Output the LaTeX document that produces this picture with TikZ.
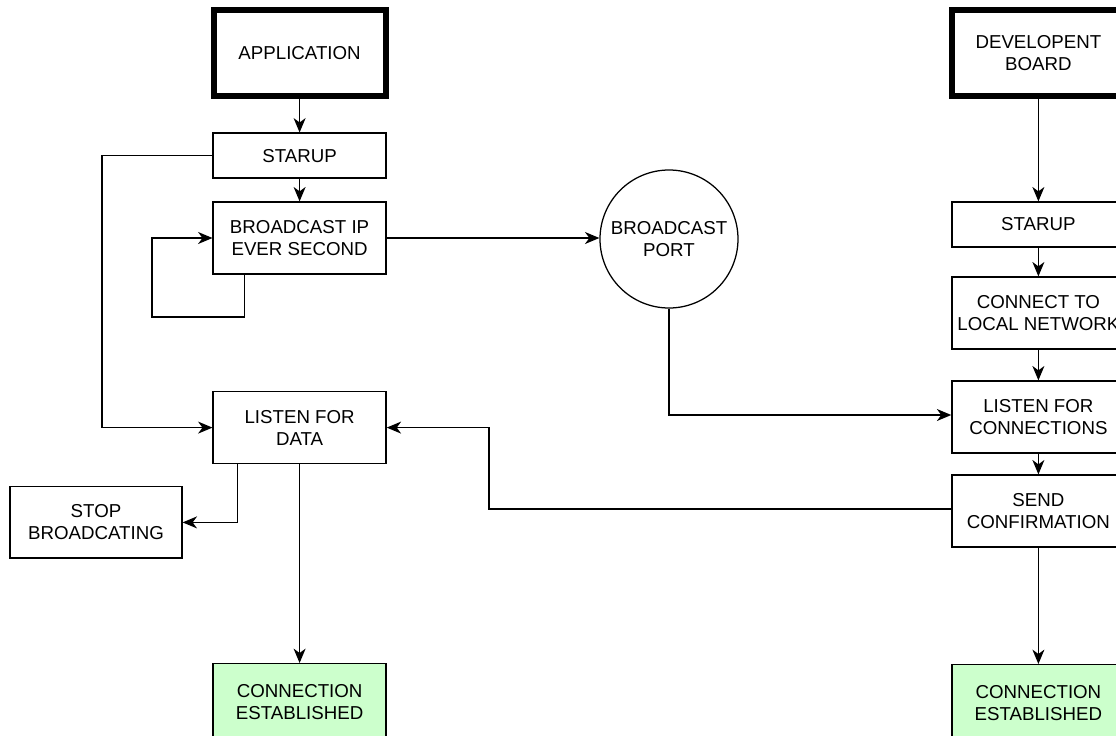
\documentclass[tikz,border=0pt]{standalone}
\usepackage{fontspec}
\setmainfont{Liberation Sans}
\usetikzlibrary{arrows.meta}
\definecolor{donegreen}{HTML}{CCFFCC}

\begin{document}
\begin{tikzpicture}[font=\fontsize{13.3}{15.6}\selectfont,
  box/.style={draw,line width=.9pt,minimum width=4.325cm,minimum height=1.8cm,align=center,inner sep=0pt},
  shortbox/.style={box,minimum height=1.125cm},
  startbox/.style={box,line width=4.3pt,minimum width=4.3cm,minimum height=2.15cm},
  donebox/.style={box,fill=donegreen,minimum height=1.9cm,anchor=north},
  portnode/.style={draw,circle,line width=.9pt,minimum size=3.45cm,align=center,inner sep=0pt},
  arr/.style={line width=.9pt,-{Stealth[length=.36cm,width=.3cm,inset=.11cm]}}]
\useasboundingbox (0,0) rectangle (27.9,-18.375);
% application side
\node[startbox] (app) at (7.49,-1.325) {APPLICATION};
\node[shortbox] (startA) at (7.49,-3.89) {STARUP};
\node[box] (bcast) at (7.49,-5.95) {BROADCAST IP\\EVER SECOND};
\node[box] (listen) at (7.49,-10.69) {LISTEN FOR\\DATA};
\node[box,minimum width=4.3cm,minimum height=1.78cm] (stop) at (2.4,-13.06) {STOP\\BROADCATING};
\node[donebox] (doneA) at (7.49,-16.575) {CONNECTION\\ESTABLISHED};
% broadcast port
\node[portnode] (port) at (16.725,-5.975) {BROADCAST\\PORT};
% board side
\node[startbox] (board) at (25.96,-1.325) {DEVELOPENT\\BOARD};
\node[shortbox] (startB) at (25.96,-5.6125) {STARUP};
\node[box] (lan) at (25.96,-7.825) {CONNECT TO\\LOCAL NETWORK};
\node[box] (lconn) at (25.96,-10.425) {LISTEN FOR\\CONNECTIONS};
\node[box] (confirm) at (25.96,-12.775) {SEND\\CONFIRMATION};
\node[donebox] (doneB) at (25.96,-16.6) {CONNECTION\\ESTABLISHED};
\coordinate (leftrail) at (2.55,0);
\coordinate (midrail) at (12.225,0);
% connectors
\draw[arr] (app) -- (startA);
\draw[arr] (startA) -- (bcast);
\draw[arr] (startA.west) -- (startA.west -| leftrail) |- (listen.west);
\draw[arr] ([xshift=-1.375cm]bcast.south) |- (3.8,-7.925) |- (bcast.west);
\draw[arr] (bcast.east) -- (bcast.east -| port.west);
\draw[arr] (port.south) |- ([yshift=.05cm]lconn.west);
\draw[arr] ([xshift=-1.55cm]listen.south) |- (stop.east);
\draw[arr] (listen) -- (doneA);
\draw[arr] (board) -- (startB);
\draw[arr] (startB) -- (lan);
\draw[arr] (lan) -- (lconn);
\draw[arr] (lconn) -- (confirm);
\draw[arr] (confirm) -- (doneB);
\draw[arr] ([yshift=.05cm]confirm.west) -- ([yshift=.05cm]confirm.west -| midrail) |- (listen.east);
\end{tikzpicture}
\end{document}
